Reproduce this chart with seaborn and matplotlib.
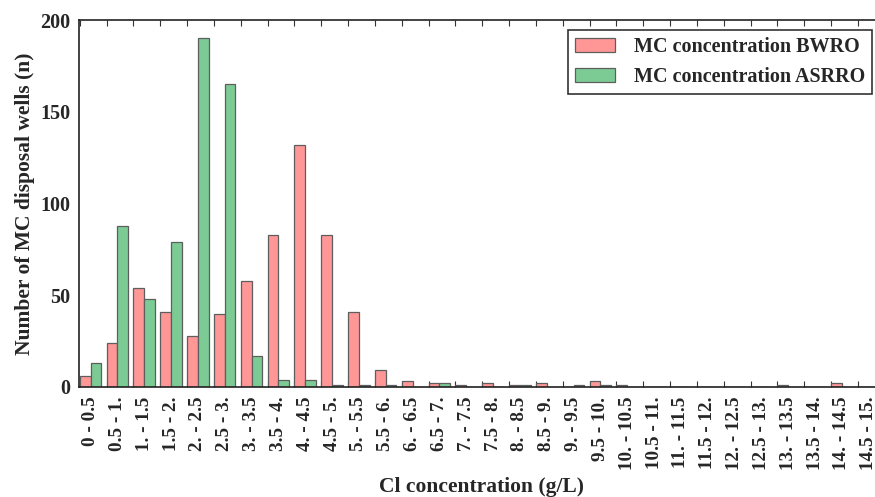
import matplotlib
matplotlib.use("Agg")
import matplotlib.pyplot as plt
import seaborn as sns
import pandas as pd
from matplotlib.patches import Patch

# Chloride concentration classes (g/L)
classes = ["0 - 0.5", "0.5 - 1.", "1. - 1.5", "1.5 - 2.", "2. - 2.5", "2.5 - 3.",
           "3. - 3.5", "3.5 - 4.", "4. - 4.5", "4.5 - 5.", "5. - 5.5", "5.5 - 6.",
           "6. - 6.5", "6.5 - 7.", "7. - 7.5", "7.5 - 8.", "8. - 8.5", "8.5 - 9.",
           "9. - 9.5", "9.5 - 10.", "10. - 10.5", "10.5 - 11.", "11. - 11.5", "11.5 - 12.",
           "12. - 12.5", "12.5 - 13.", "13. - 13.5", "13.5 - 14.", "14. - 14.5", "14.5 - 15."]

# Number of disposal wells per class
bwro = [6, 24, 54, 41, 28, 40, 58, 83, 132, 83, 41, 9, 3, 2, 1, 2, 1, 2,
        0, 3, 1, 0, 0, 0, 0, 0, 1, 0, 2, 0]
asrro = [13, 88, 48, 79, 190, 165, 17, 4, 4, 1, 1, 1, 0, 2, 0, 0, 1, 0,
         1, 1, 0, 0, 0, 0, 0, 0, 0, 0, 0, 0]

series_names = ["MC concentration BWRO", "MC concentration ASRRO"]
colors = ["#ff9797", "#7ccb95"]

df = pd.DataFrame({
    "cls": classes * 2,
    "n": bwro + asrro,
    "series": [series_names[0]] * len(classes) + [series_names[1]] * len(classes),
})

sns.set_style("white")
plt.rcParams["font.family"] = ["Liberation Serif", "DejaVu Serif"]
plt.rcParams["font.weight"] = "bold"
plt.rcParams["axes.labelweight"] = "bold"

fig = plt.figure(figsize=(8.75, 4.97), dpi=100)
ax = fig.add_axes([79 / 875, 110 / 497, 805.8 / 875, 367 / 497])

sns.barplot(data=df, x="cls", y="n", hue="series", order=classes,
            hue_order=series_names, palette=colors, width=0.8,
            edgecolor="#5e5e5e", linewidth=0.9, saturation=1,
            legend=False, ax=ax)

ax.set_xlim(-0.43, 29.6)
ax.set_ylim(0, 200)
ax.set_yticks([0, 50, 100, 150, 200])
ax.tick_params(axis="y", length=0, labelsize=14.5, pad=6)

# Category labels centred on each pair, tick marks at the pair edges
pos = list(range(len(classes)))
ax.set_xticks([p - 0.4 for p in range(len(classes) + 1)])
ax.set_xticklabels([])
ax.set_xticks(pos, minor=True)
ax.set_xticklabels(classes, minor=True)
ax.tick_params(axis="x", which="major", direction="in", length=4, width=0.8,
               top=True, bottom=True, color="#333333")
ax.tick_params(axis="x", which="minor", length=0, pad=7, labelsize=13.8,
               labelrotation=90)

for s in ax.spines.values():
    s.set_color("#222222")
    s.set_linewidth(1.2)

ax.set_xlabel("Cl concentration (g/L)", fontsize=15.5, fontweight="bold", labelpad=5)
ax.set_ylabel("Number of MC disposal wells (n)", fontsize=15.5, fontweight="bold", labelpad=4)
for lbl in ax.get_yticklabels() + ax.get_xticklabels(minor=True):
    lbl.set_fontweight("bold")

handles = [Patch(facecolor=c, edgecolor="#5e5e5e", linewidth=0.9) for c in colors]
leg = fig.legend(handles, series_names, loc="upper right",
                 bbox_to_anchor=(872 / 875, 1 - 30 / 497), borderaxespad=0,
                 fontsize=14.5, frameon=True, fancybox=False, borderpad=0.36,
                 handlelength=2.0, handleheight=0.7, handletextpad=0.9,
                 labelspacing=0.48)
leg.get_frame().set_edgecolor("black")
leg.get_frame().set_linewidth(1.2)
for t in leg.get_texts():
    t.set_fontweight("bold")

fig.savefig("out.png", dpi=100)
